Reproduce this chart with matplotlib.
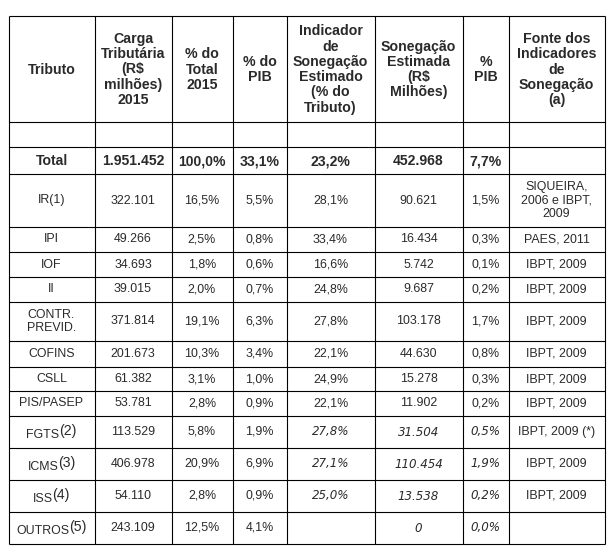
import matplotlib
matplotlib.use("Agg")
import matplotlib.pyplot as plt

# ---------------- data ----------------
headers = ["Tributo", "Carga\nTributária\n(R$\nmilhões)\n2015", "% do\nTotal\n2015", "% do\nPIB",
           "Indicador\nde\nSonegação\nEstimado\n(% do\nTributo)", "Sonegação\nEstimada\n(R$\nMilhões)",
           "%\nPIB", "Fonte dos\nIndicadores\nde\nSonegação\n(a)"]
total_row = ["Total", "1.951.452", "100,0%", "33,1%", "23,2%", "452.968", "7,7%", ""]

tributos = ["IR(1)", "IPI", "IOF", "II", "CONTR.\nPREVID.", "COFINS", "CSLL", "PIS/PASEP",
            "FGTS", "ICMS", "ISS", "OUTROS"]
notas = ["", "", "", "", "", "", "", "", "(2)", "(3)", "(4)", "(5)"]
carga = [322101, 49266, 34693, 39015, 371814, 201673, 61382, 53781, 113529, 406978, 54110, 243109]
pct_total = [16.5, 2.5, 1.8, 2.0, 19.1, 10.3, 3.1, 2.8, 5.8, 20.9, 2.8, 12.5]
pct_pib = [5.5, 0.8, 0.6, 0.7, 6.3, 3.4, 1.0, 0.9, 1.9, 6.9, 0.9, 4.1]
indicador = [28.1, 33.4, 16.6, 24.8, 27.8, 22.1, 24.9, 22.1, 27.8, 27.1, 25.0, None]
sonegacao = [90621, 16434, 5742, 9687, 103178, 44630, 15278, 11902, 31504, 110454, 13538, 0]
sonegacao_pib = [1.5, 0.3, 0.1, 0.2, 1.7, 0.8, 0.3, 0.2, 0.5, 1.9, 0.2, 0.0]
fonte = ["SIQUEIRA,\n2006 e IBPT,\n2009", "PAES, 2011", "IBPT, 2009", "IBPT, 2009", "IBPT, 2009",
         "IBPT, 2009", "IBPT, 2009", "IBPT, 2009", "IBPT, 2009 (*)", "IBPT, 2009", "IBPT, 2009", ""]
estimado = [False] * 8 + [True] * 4

# ---------------- layout ----------------
col_edges = [8.5, 94.5, 171.5, 232.5, 286.5, 374.5, 462.5, 508.5, 604.5]
row_edges = [15.5, 121.5, 146.5, 173.5, 226.5, 251.5, 276.5, 301.5, 340.5, 366.5, 390.5, 415.5,
             447.5, 479.5, 511.5, 543.5]
TXT = "#2a2a2a"
FONT = "Liberation Sans"


def fmt_int(v):
    return f"{v:,}".replace(",", ".")


def fmt_pct(v):
    return "" if v is None else f"{v:.1f}%".replace(".", ",")


fig = plt.figure(figsize=(6.11, 5.60), dpi=100)
ax = fig.add_axes([0, 0, 1, 1])
ax.set_xlim(0, 611)
ax.set_ylim(560, 0)
ax.axis("off")

ax.hlines(row_edges, col_edges[0], col_edges[-1], color="black", lw=0.8)
ax.vlines(col_edges, row_edges[0], row_edges[-1], color="black", lw=0.8)


def cx(i):
    return (col_edges[i] + col_edges[i + 1]) / 2


def cy(r):
    return (row_edges[r] + row_edges[r + 1]) / 2


# header
for i, h in enumerate(headers):
    ax.text(cx(i), cy(0) + 1, h, ha="center", va="center", fontsize=10.2, fontweight="bold",
            family=FONT, color=TXT, linespacing=1.12)

# total row
for i, t in enumerate(total_row):
    ax.text(cx(i), cy(2) + 1, t, ha="center", va="center", fontsize=10.1, fontweight="bold",
            family=FONT, color=TXT)

fig.canvas.draw()
renderer = fig.canvas.get_renderer()

for k in range(len(tributos)):
    r = 3 + k
    y = cy(r) + 0.5
    # tributo name (+ footnote)
    if notas[k]:
        t1 = ax.text(0, y + 3, tributos[k], ha="left", va="center", fontsize=8.9, family=FONT, color=TXT)
        t2 = ax.text(0, y - 1, notas[k], ha="left", va="center", fontsize=10.2, family=FONT, color=TXT)
        w1 = t1.get_window_extent(renderer).width
        w2 = t2.get_window_extent(renderer).width
        x0 = cx(0) - (w1 + w2) / 2
        t1.set_x(x0)
        t2.set_x(x0 + w1 - 0.5)
    else:
        ax.text(cx(0), y, tributos[k], ha="center", va="center", fontsize=8.9, family=FONT,
                color=TXT, linespacing=1.1)
    ax.text(cx(1), y, fmt_int(carga[k]), ha="center", va="center", fontsize=8.9, family=FONT, color=TXT)
    ax.text(cx(2), y, fmt_pct(pct_total[k]), ha="center", va="center", fontsize=8.9, family=FONT, color=TXT)
    ax.text(cx(3), y, fmt_pct(pct_pib[k]), ha="center", va="center", fontsize=8.9, family=FONT, color=TXT)
    if estimado[k]:
        kw = dict(family="DejaVu Sans", style="italic", fontsize=8.6)
    else:
        kw = dict(family=FONT, fontsize=8.9)
    ax.text(cx(4), y, fmt_pct(indicador[k]), ha="center", va="center", color=TXT, **kw)
    ax.text(cx(5), y, fmt_int(sonegacao[k]), ha="center", va="center", color=TXT, **kw)
    ax.text(cx(6), y, fmt_pct(sonegacao_pib[k]), ha="center", va="center", color=TXT, **kw)
    ax.text(cx(7), y, fonte[k], ha="center", va="center", fontsize=8.9, family=FONT, color=TXT,
            linespacing=1.2)

fig.savefig("out.png", dpi=100)
